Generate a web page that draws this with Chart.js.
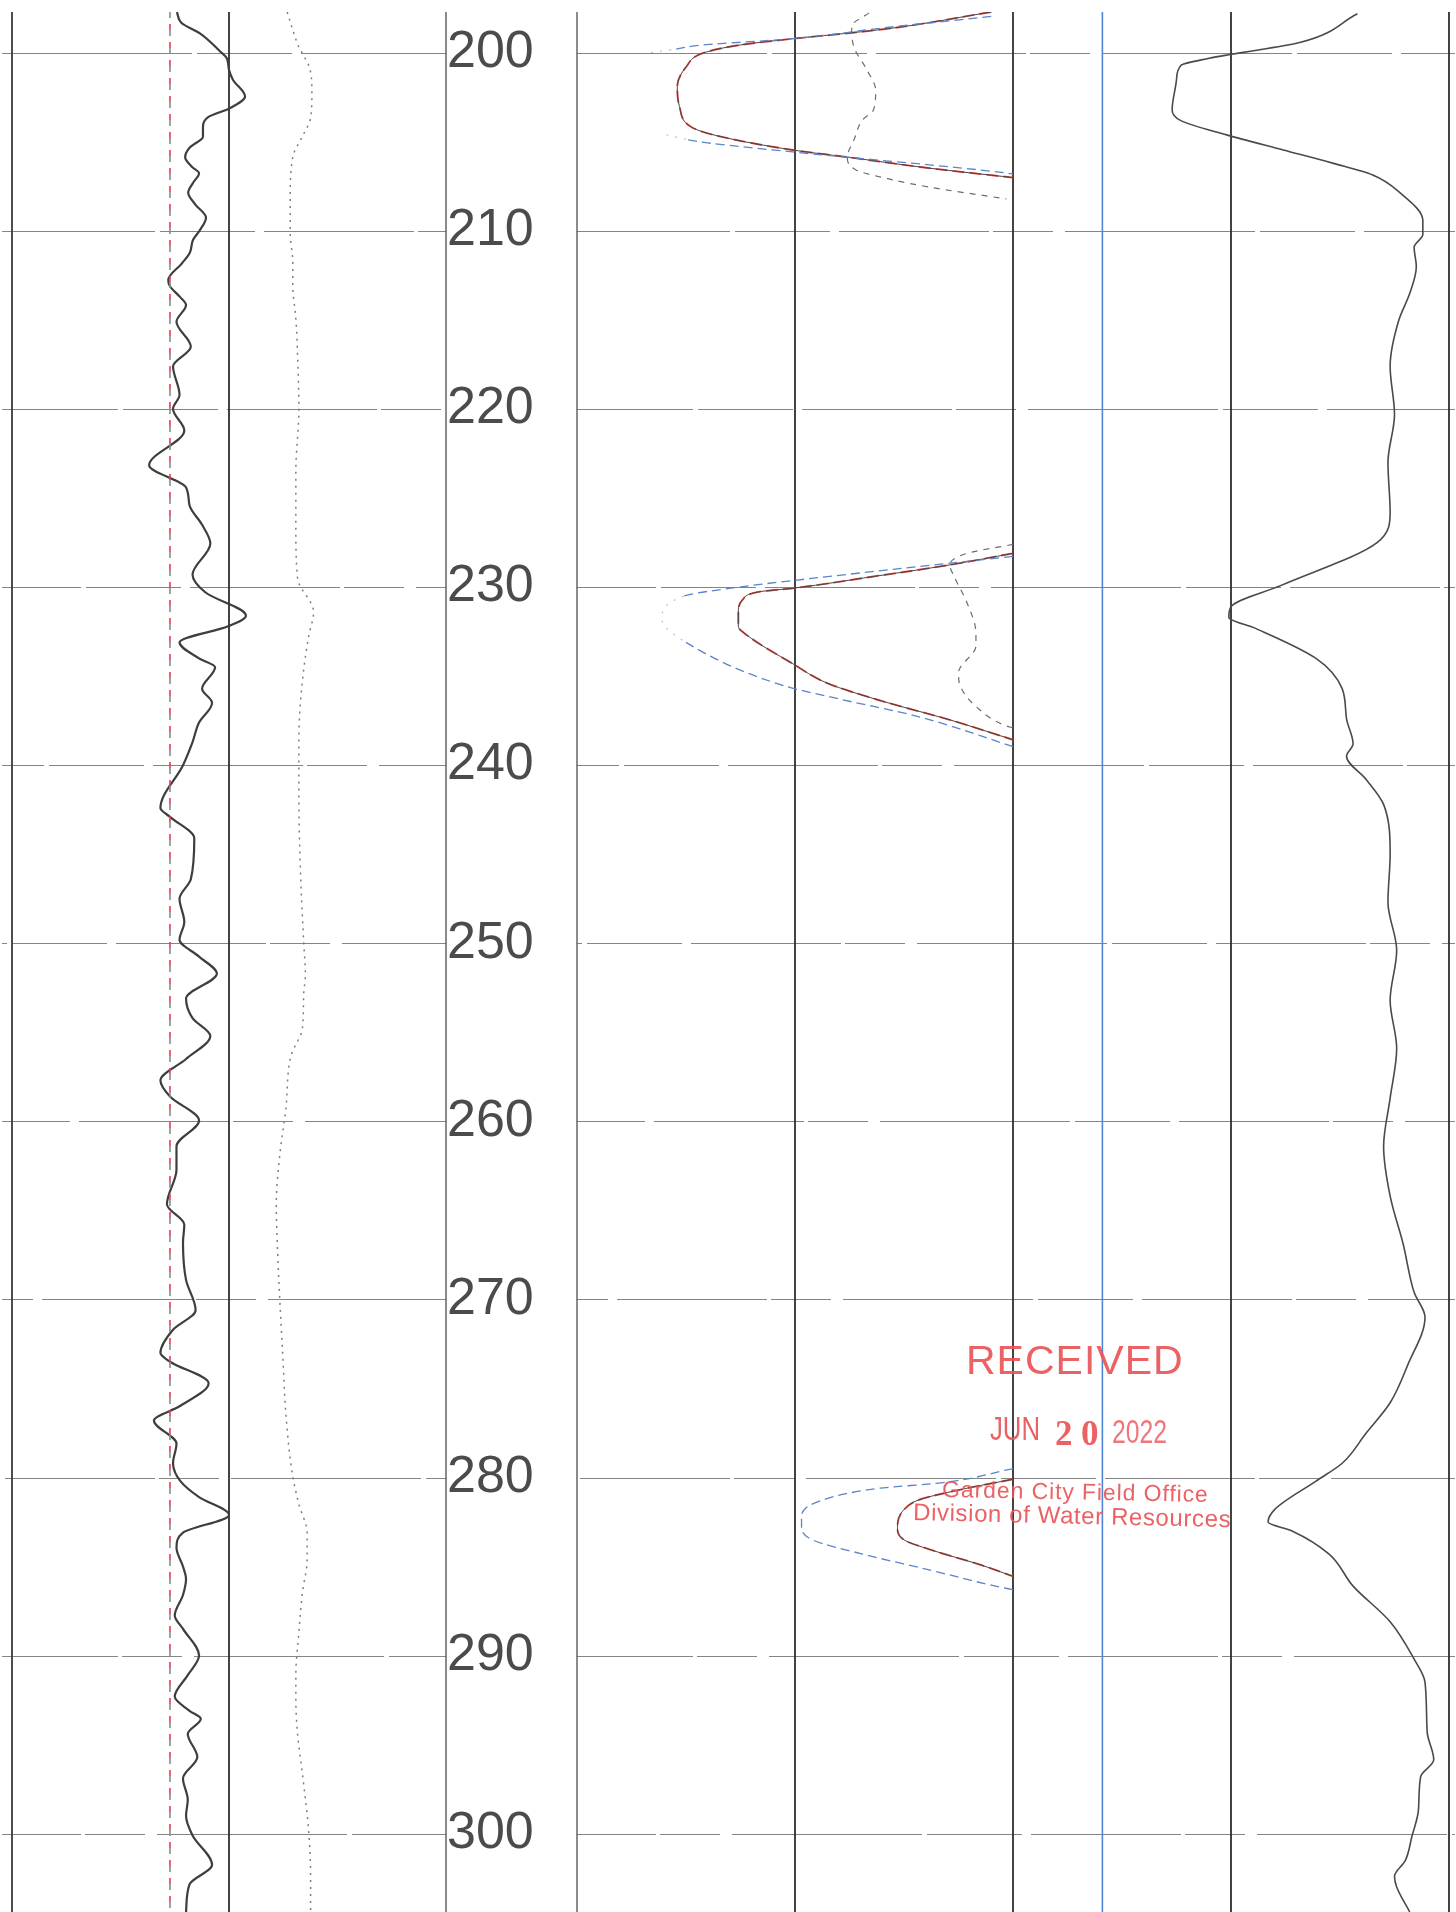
<!DOCTYPE html>
<html>
<head>
<meta charset="utf-8">
<title>Well log 197–304</title>
<script src="https://cdn.jsdelivr.net/npm/chart.js@4.4.1/dist/chart.umd.min.js"></script>
<style>
  html, body { margin: 0; padding: 0; background: #fff; }
  #sheet { position: relative; width: 1456px; height: 1912px; overflow: hidden; background: #fff; }
  #sheet canvas { position: absolute; top: 0; }
  .stamp { position: absolute; color: #ea5558; font-family: "Liberation Sans", Arial, sans-serif;
           white-space: nowrap; line-height: 1; opacity: 0.92; transform-origin: 0 80%; }
</style>
</head>
<body>
<div id="sheet">
  <canvas id="trackLeft" width="448" height="1912" style="left:0px"></canvas>
  <canvas id="depthCol" width="131" height="1912" style="left:446px"></canvas>
  <canvas id="trackRight" width="886" height="1912" style="left:570px"></canvas>

  <div class="stamp" style="left:966px; top:1340px; font-size:41px; letter-spacing:1px;">RECEIVED</div>
  <div class="stamp" style="left:990px; top:1412px; font-size:33px; transform:scaleX(0.78);">JUN</div>
  <div class="stamp" style="left:1055px; top:1416px; font-size:35px; font-family:'Liberation Serif', serif; font-weight:bold;">2</div>
  <div class="stamp" style="left:1081px; top:1416px; font-size:35px; font-family:'Liberation Serif', serif; font-weight:bold;">0</div>
  <div class="stamp" style="left:1112px; top:1415px; font-size:33px; transform:scaleX(0.75); opacity:0.8;">2022</div>
  <div class="stamp" style="left:942px; top:1478px; font-size:23px; letter-spacing:0.9px; transform:rotate(1.07deg);">Garden City Field Office</div>
  <div class="stamp" style="left:913px; top:1500px; font-size:24px; letter-spacing:0.6px; transform:rotate(1.3deg);">Division of Water Resources</div>
</div>

<script>
// ---- depth axis ----
const depthTop = 197.7;
const depthBottom = 304.4;
const depthTicks = [200, 210, 220, 230, 240, 250, 260, 270, 280, 290, 300];

// ---- left track (0–100 scale) ----
const leftGrid = [0, 50, 100];
const spBaseline = [36.4, 36.4];
const spBaselineDepth = [197.7, 304.4];

const spDepth = [197.7, 198.3, 198.9, 199.9, 200.3, 200.95, 201.5, 202.45, 203.1, 203.6, 204.15, 204.7,
  205.3, 205.85, 206.4, 206.75, 207.3, 207.85, 208.5, 209.25, 209.95, 210.5, 211.2, 211.8, 212.75, 213.1,
  213.7, 214.15, 215.1, 216.5, 217.6, 219.2, 220.0, 221.2, 223.15, 224.4, 225.4, 226.5, 227.55, 229.3,
  230.3, 231.6, 232.2, 233.1, 234.0, 234.5, 235.7, 236.5, 237.6, 238.7, 240.0, 242.4, 242.9, 244.1,
  246.4, 247.5, 248.8, 249.8, 250.75, 251.7, 253.1, 254.2, 255.2, 256.5, 257.7, 258.6, 259.95, 261.4,
  262.7, 264.65, 265.8, 266.8, 268.9, 270.6, 271.7, 273.0, 273.5, 274.7, 276.0, 276.8, 278.1, 279.2,
  280.2, 281.1, 282.1, 283.1, 283.95, 285.0, 285.7, 286.6, 287.75, 288.5, 290.0, 291.1, 292.3, 293.1,
  293.55, 294.4, 295.7, 296.9, 298.1, 299.0, 300.1, 301.75, 302.85, 304.4];
const spValue = [38.0, 39.0, 43.3, 47.9, 49.5, 50.0, 50.9, 53.7, 50.2, 45.2, 44.0, 44.0,
  41.0, 39.9, 41.5, 43.1, 41.7, 40.6, 42.2, 44.7, 43.3, 41.7, 41.0, 39.2, 36.0, 36.4,
  38.7, 40.1, 37.9, 41.2, 37.1, 38.6, 37.1, 39.7, 31.6, 40.1, 40.9, 43.8, 45.7, 41.6,
  44.6, 53.9, 49.8, 38.6, 43.1, 46.8, 43.8, 46.1, 43.1, 41.6, 39.4, 34.2, 36.4, 42.0,
  41.2, 38.6, 39.7, 38.6, 43.1, 47.2, 40.1, 41.6, 45.7, 40.1, 34.2, 36.4, 43.1, 37.9,
  37.9, 35.7, 39.7, 39.4, 40.1, 42.3, 37.1, 34.2, 36.4, 45.3, 38.6, 32.7, 37.9, 37.1,
  38.8, 43.1, 50.0, 39.4, 37.9, 39.4, 40.1, 39.4, 37.5, 39.4, 43.1, 40.5, 37.5, 40.9,
  43.5, 40.5, 42.7, 39.4, 40.5, 40.1, 41.6, 46.1, 40.9, 40.1];

const dotDepth = [197.7, 199.55, 200.95, 202.25, 203.76, 204.6, 205.84, 208.25, 210.1, 211.8, 213.1,
  214.9, 217.0, 220.0, 223.5, 226.5, 229.5, 231.4, 232.7, 235.3, 238.5, 241.7, 246.2, 249.9, 251.8,
  252.9, 254.8, 256.3, 259.3, 261.9, 264.65, 267.9, 270.0, 273.2, 276.4, 279.8, 281.5, 283.1, 284.6,
  286.5, 288.7, 291.1, 292.5, 294.4, 296.6, 300.0, 302.5, 304.4];
const dotValue = [63.4, 65.9, 68.7, 69.1, 68.7, 67.1, 64.7, 64.1, 64.1, 64.7, 64.7,
  65.4, 65.8, 66.1, 65.4, 65.4, 65.8, 69.5, 68.4, 66.9, 66.1, 66.1, 66.5, 67.2, 67.6,
  67.2, 66.9, 64.3, 63.1, 61.7, 60.9, 61.3, 61.7, 62.4, 63.1, 64.6, 66.1, 68.0, 68.0,
  66.9, 66.1, 65.4, 65.4, 65.8, 66.9, 68.4, 68.8, 68.8];

// ---- right tracks (0–4 scale, track 2 = 0–2, track 3 = 2–4) ----
const rightGrid = [0, 1, 2, 3, 4];
const rightBlueGrid = [2.41];

// short-spacing curve, three on-scale runs
const shortDepth = [
  [197.7, 198.6, 198.88, 199.2, 199.55, 200.0, 200.8, 201.9, 203.0, 204.2, 204.7, 205.45, 205.85, 206.46, 207.0],
  [228.1, 228.75, 229.4, 230.06, 230.25, 230.7, 231.45, 232.2, 232.7, 234.3, 235.4, 236.4, 237.45, 238.57],
  [280.1, 280.6, 281.25, 281.8, 282.8, 283.5, 284.05, 284.9, 285.55]
];
const shortValue = [
  [1.90, 1.45, 1.25, 0.99, 0.75, 0.58, 0.50, 0.46, 0.47, 0.53, 0.66, 0.99, 1.24, 1.61, 2.0],
  [2.0, 1.71, 1.36, 0.99, 0.84, 0.76, 0.74, 0.74, 0.78, 0.99, 1.15, 1.40, 1.71, 2.0],
  [2.0, 1.79, 1.57, 1.50, 1.47, 1.50, 1.62, 1.85, 2.0]
];

// long-spacing curve
const longDepth = [
  [197.95, 198.6, 199.2, 199.55, 199.83, 200.0],
  [204.6, 204.88, 205.05, 205.56, 206.74, 206.8],
  [228.27, 229.0, 229.6, 229.97, 230.5, 231.8, 233.1, 235.5, 236.3, 237.25, 238.95],
  [279.5, 280.3, 280.6, 281.34, 282.2, 282.8, 283.5, 284.3, 285.2, 286.1, 286.3]
];
const longValue = [
  [1.90, 1.40, 0.99, 0.58, 0.43, 0.33],
  [0.41, 0.51, 0.60, 0.99, 1.97, 2.0],
  [2.0, 1.45, 1.01, 0.76, 0.49, 0.39, 0.50, 0.94, 1.21, 1.56, 2.0],
  [2.0, 1.67, 1.39, 1.11, 1.03, 1.03, 1.08, 1.31, 1.62, 1.92, 2.0]
];

// medium curve (dashed)
const medDepth = [
  [197.75, 198.5, 199.66, 200.95, 202.1, 203.2, 203.76, 204.9, 205.84, 206.57, 207.13, 207.52, 208.2],
  [227.6, 228.1, 228.75, 229.4, 230.9, 232.6, 233.3, 234.8, 235.6, 236.7, 237.8, 237.9]
];
const medValue = [
  [1.34, 1.26, 1.27, 1.33, 1.37, 1.36, 1.31, 1.27, 1.24, 1.28, 1.45, 1.61, 1.97],
  [2.0, 1.79, 1.71, 1.73, 1.79, 1.83, 1.83, 1.75, 1.76, 1.83, 1.97, 2.0]
];

// track 3 curve
const t3Depth = [197.8, 199.4, 199.9, 200.1, 200.3, 200.7, 201.5, 203.2, 203.8, 204.6, 205.45, 206.2,
  206.85, 207.9, 209.4, 210.2, 210.9, 212.0, 213.5, 215.0, 217.6, 220.3, 223.0, 225.8, 227.5, 229.9,
  231.1, 231.7, 232.3, 234.0, 235.7, 237.4, 238.8, 239.5, 240.8, 242.2, 245.0, 247.7, 250.4, 253.2,
  255.9, 258.7, 261.4, 264.2, 266.9, 269.6, 271.0, 273.7, 275.8, 277.5, 279.2, 280.2, 281.8, 282.5,
  283.0, 284.3, 286.1, 288.1, 290.2, 291.5, 294.3, 295.85, 296.8, 298.65, 300.15, 301.5, 302.4, 303.0, 304.4];
const t3Value = [3.58, 3.32, 3.09, 2.99, 2.90, 2.77, 2.75, 2.73, 2.77, 2.98, 3.24, 3.47,
  3.65, 3.78, 3.88, 3.88, 3.84, 3.85, 3.82, 3.77, 3.73, 3.75, 3.72, 3.73, 3.67, 3.23,
  3.00, 2.99, 3.11, 3.39, 3.51, 3.53, 3.56, 3.53, 3.62, 3.70, 3.73, 3.72, 3.76, 3.73,
  3.76, 3.73, 3.70, 3.73, 3.79, 3.84, 3.89, 3.81, 3.73, 3.62, 3.51, 3.39, 3.20, 3.17,
  3.28, 3.45, 3.56, 3.73, 3.84, 3.89, 3.90, 3.93, 3.87, 3.86, 3.83, 3.80, 3.75, 3.76, 3.82];

// ---- helpers ----
const toPoints = (depths, values) => depths.map((d, i) => ({ x: values[i], y: d }));

function curve(depths, values, style) {
  return Object.assign({
    data: toPoints(depths, values),
    borderColor: '#3c3c3c',
    borderWidth: 1.5,
    pointRadius: 0,
    fill: false,
    cubicInterpolationMode: 'monotone',
    spanGaps: false
  }, style);
}

// grid drawn through the chart's own scales
const logGrid = {
  id: 'logGrid',
  beforeDatasetsDraw(chart, args, o) {
    const { ctx, chartArea: a, scales: { x, y } } = chart;
    ctx.save();
    ctx.strokeStyle = '#858585';
    ctx.lineWidth = 1.1;
    ctx.setLineDash([190, 5, 95, 9, 150, 4, 60, 12]);
    depthTicks.forEach((d, i) => {
      const py = Math.round(y.getPixelForValue(d)) + 0.5;
      ctx.lineDashOffset = i * 37;
      ctx.beginPath();
      ctx.moveTo(a.left - (o.extendLeft || 0), py);
      ctx.lineTo(a.right + (o.extendRight || 0), py);
      ctx.stroke();
    });
    ctx.setLineDash([]);
    (o.lines || []).forEach(l => {
      const px = x.getPixelForValue(l.v);
      ctx.strokeStyle = l.color;
      ctx.lineWidth = l.width;
      ctx.beginPath();
      ctx.moveTo(px, a.top);
      ctx.lineTo(px, a.bottom);
      ctx.stroke();
    });
    ctx.restore();
  }
};

function depthScale() {
  return { type: 'linear', reverse: true, min: depthTop, max: depthBottom, display: false };
}

function trackChart(id, xMin, xMax, padding, datasets, gridOpts) {
  return new Chart(document.getElementById(id), {
    type: 'line',
    data: { datasets },
    options: {
      responsive: false,
      animation: false,
      devicePixelRatio: 1,
      indexAxis: 'y',
      layout: { padding },
      events: [],
      plugins: { legend: { display: false }, tooltip: { enabled: false }, logGrid: gridOpts },
      scales: {
        x: { type: 'linear', min: xMin, max: xMax, display: false },
        y: depthScale()
      }
    },
    plugins: [logGrid]
  });
}

// ---- left track ----
trackChart('trackLeft', 0, 100, { left: 12, right: 2, top: 12, bottom: 0 }, [
  curve(dotDepth, dotValue, { borderColor: '#7e7e7e', borderWidth: 1.5, borderDash: [2, 5] }),
  curve(spBaselineDepth, spBaseline, { borderColor: '#8a8a8a', borderWidth: 1.6, borderDash: [6, 12], cubicInterpolationMode: 'default' }),
  curve(spBaselineDepth, spBaseline, { borderColor: '#e2404f', borderWidth: 1.6, borderDash: [6, 12], borderDashOffset: 6, cubicInterpolationMode: 'default' }),
  curve(spDepth, spValue, { borderColor: '#3e3e3e', borderWidth: 2.2 })
], {
  extendLeft: 10, extendRight: 0,
  lines: [
    { v: leftGrid[0], color: '#3a3a3a', width: 1.8 },
    { v: leftGrid[1], color: '#2e2e2e', width: 1.8 },
    { v: leftGrid[2], color: '#5a5a5a', width: 1.4 }
  ]
});

// ---- depth labels ----
new Chart(document.getElementById('depthCol'), {
  type: 'line',
  data: { datasets: [] },
  options: {
    responsive: false,
    animation: false,
    devicePixelRatio: 1,
    events: [],
    layout: { padding: { left: 1, right: 0, top: 12, bottom: 0 } },
    plugins: { legend: { display: false }, tooltip: { enabled: false } },
    scales: {
      x: { type: 'linear', display: false, min: 0, max: 1 },
      y: {
        type: 'linear', reverse: true, min: depthTop, max: depthBottom, position: 'left',
        afterBuildTicks: s => { s.ticks = depthTicks.map(v => ({ value: v })); },
        grid: { display: false, drawTicks: false },
        border: { display: false },
        ticks: {
          mirror: true, padding: 0, autoSkip: false, color: '#4b4b4b',
          font: { family: '"Liberation Sans", Arial, sans-serif', size: 52, lineHeight: 0.01 },
          callback: v => String(v)
        }
      }
    }
  }
});

// ---- right tracks ----
const faintNose = ctx => (ctx.p0.parsed.x < 0.56 && ctx.p1.parsed.x < 0.56);
const rightSets = [];
medDepth.forEach((d, i) => rightSets.push(curve(d, medValue[i], { borderColor: '#6d6d6d', borderWidth: 1.2, borderDash: [6, 6] })));
longDepth.forEach((d, i) => rightSets.push(curve(d, longValue[i], {
  borderColor: '#5a84cc', borderWidth: 1.3, borderDash: [9, 5],
  segment: {
    borderColor: c => faintNose(c) ? 'rgba(120,130,150,0.45)' : undefined,
    borderDash: c => faintNose(c) ? [2, 7] : undefined
  }
})));
shortDepth.forEach((d, i) => {
  rightSets.push(curve(d, shortValue[i], { borderColor: '#444', borderWidth: 1.0 }));
  rightSets.push(curve(d, shortValue[i], { borderColor: '#e2473e', borderWidth: 1.9, borderDash: [12, 5] }));
});
rightSets.push(curve(t3Depth, t3Value, { borderColor: '#4a4a4a', borderWidth: 1.6 }));

trackChart('trackRight', 0, 4, { left: 7, right: 7, top: 12, bottom: 0 }, rightSets, {
  extendLeft: 0, extendRight: 6,
  lines: [
    { v: rightGrid[0], color: '#5a5a5a', width: 1.4 },
    { v: rightGrid[1], color: '#2e2e2e', width: 1.8 },
    { v: rightGrid[2], color: '#2e2e2e', width: 1.8 },
    { v: rightBlueGrid[0], color: '#4d86d9', width: 1.6 },
    { v: rightGrid[3], color: '#2e2e2e', width: 1.8 },
    { v: rightGrid[4], color: '#2e2e2e', width: 1.8 }
  ]
});
</script>
</body>
</html>
